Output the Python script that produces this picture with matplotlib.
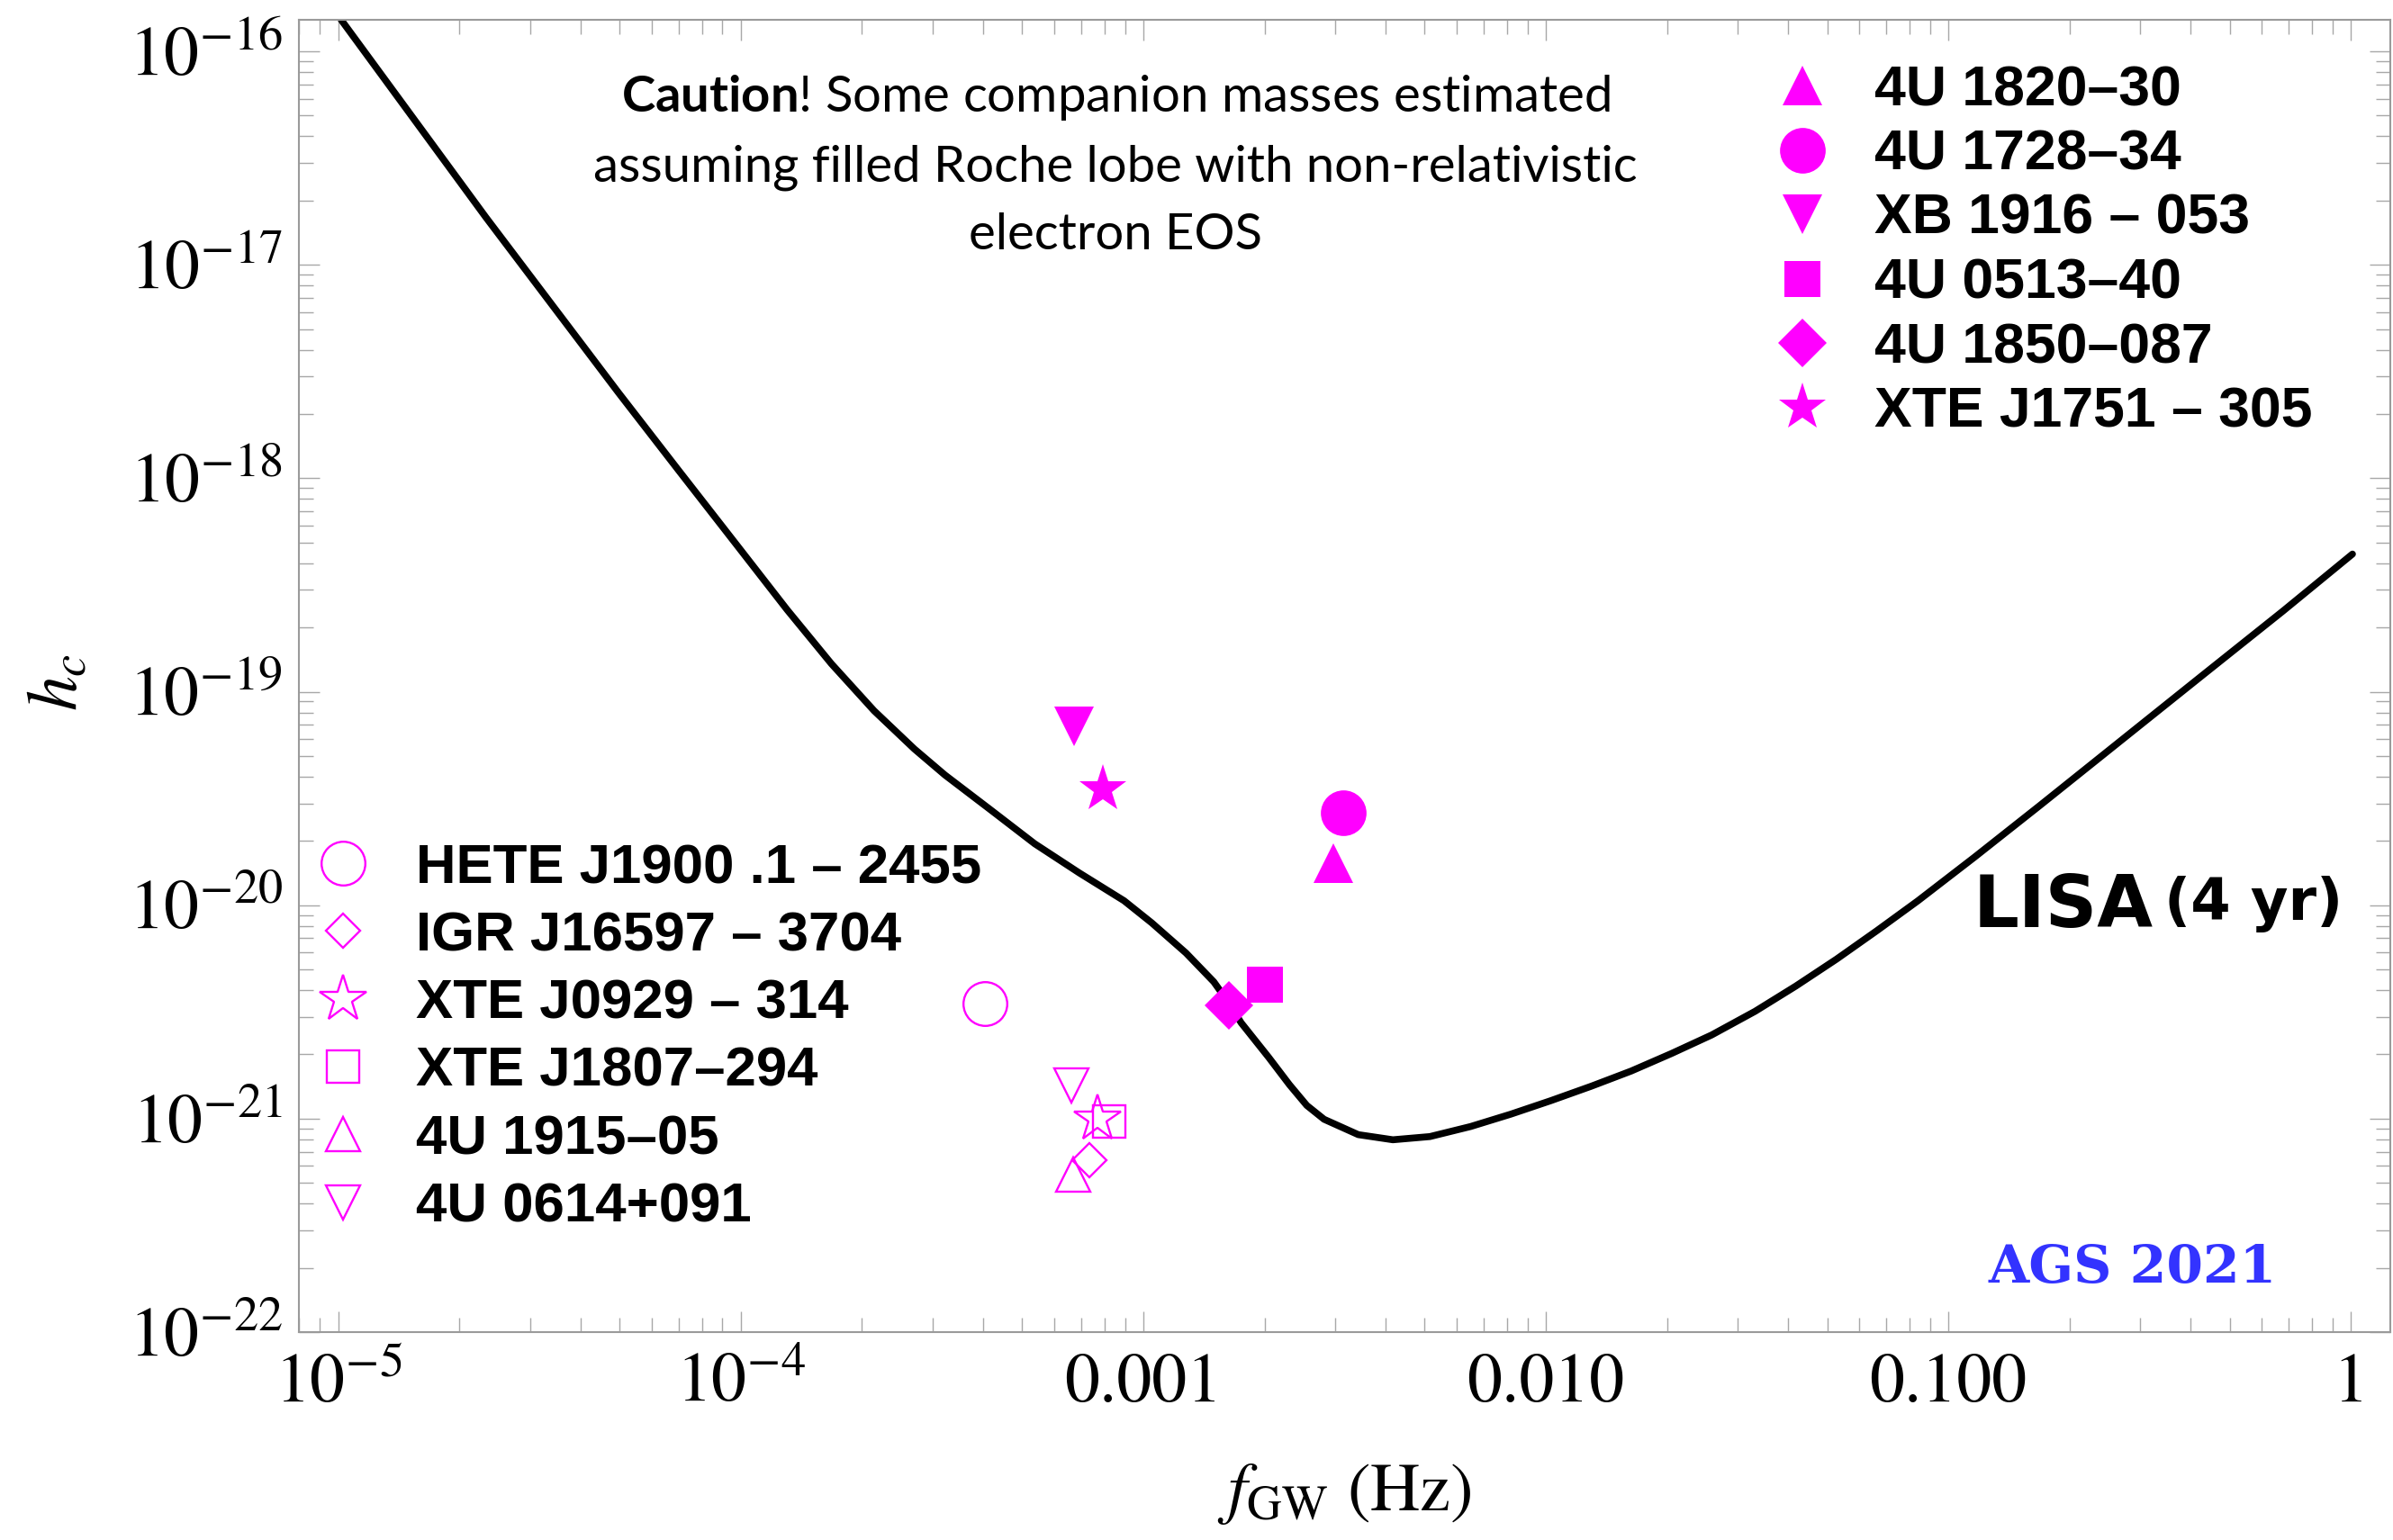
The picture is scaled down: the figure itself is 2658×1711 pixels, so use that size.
import numpy as np
import matplotlib
matplotlib.use('Agg')
import matplotlib.pyplot as plt
from matplotlib.ticker import FixedLocator, FixedFormatter, LogLocator, NullFormatter

# ---------------- data ----------------
# LISA (4 yr) sensitivity curve, log10 f [Hz] and log10 h_c
lisa_log_f = [-4.993, -4.803, -4.634, -4.464, -4.304, -4.155, -4.005, -3.885,
              -3.775, -3.669, -3.569, -3.493, -3.381, -3.270, -3.159, -3.048,
              -2.979, -2.894, -2.825, -2.789, -2.757, -2.689, -2.637, -2.594,
              -2.551, -2.466, -2.380, -2.288, -2.187, -2.087, -1.988, -1.887,
              -1.788, -1.688, -1.588, -1.480, -1.379, -1.278, -1.178, -1.076,
              -0.935, -0.774, -0.572, -0.370, -0.168, 0.004]
lisa_log_hc = [-15.852, -16.341, -16.776, -17.200, -17.599, -17.962, -18.325, -18.616,
               -18.869, -19.089, -19.268, -19.390, -19.551, -19.712, -19.849, -19.979,
               -20.083, -20.224, -20.359, -20.454, -20.551, -20.712, -20.841, -20.938,
               -21.003, -21.075, -21.099, -21.084, -21.037, -20.979, -20.916, -20.848,
               -20.777, -20.695, -20.608, -20.497, -20.379, -20.253, -20.120, -19.980,
               -19.775, -19.535, -19.230, -18.925, -18.621, -18.355]

# filled symbols (upper right list)
filled_names = ['4U 1820–30', '4U 1728–34', 'XB 1916 – 053', '4U 0513–40',
                '4U 1850–087', 'XTE J1751 – 305']
filled_markers = ['^', 'o', 'v', 's', 'D', '*']
filled_f = [2.96e-3, 3.14e-3, 6.73e-4, 2.00e-3, 1.63e-3, 7.92e-4]
filled_hc = [1.57e-20, 2.72e-20, 6.9e-20, 4.26e-21, 3.40e-21, 3.5e-20]

# open symbols (lower left list)
open_names = ['HETE J1900 .1 – 2455', 'IGR J16597 – 3704', 'XTE J0929 – 314',
              'XTE J1807–294', '4U 1915–05', '4U 0614+091']
open_markers = ['o', 'D', '*', 's', '^', 'v']
open_f = [4.05e-4, 7.36e-4, 7.71e-4, 8.22e-4, 6.70e-4, 6.62e-4]
open_hc = [3.46e-21, 6.4e-22, 1.00e-21, 9.66e-22, 5.46e-22, 1.43e-21]

xtick_vals = [1e-5, 1e-4, 1e-3, 1e-2, 1e-1, 1.0]
xtick_labels = [r'$10^{-5}$', r'$10^{-4}$', '0.001', '0.010', '0.100', '1']
ytick_vals = [1e-22, 1e-21, 1e-20, 1e-19, 1e-18, 1e-17, 1e-16]
ytick_labels = [r'$10^{-22}$', r'$10^{-21}$', r'$10^{-20}$', r'$10^{-19}$',
                r'$10^{-18}$', r'$10^{-17}$', r'$10^{-16}$']

# ---------------- style ----------------
plt.rcParams['font.family'] = 'STIXGeneral'
plt.rcParams['mathtext.fontset'] = 'stix'
plt.rcParams['mathtext.rm'] = 'Lato'
plt.rcParams['mathtext.bf'] = 'Lato:bold'
plt.rcParams['mathtext.it'] = 'Lato:italic'

MAG = '#ff00ff'
filled_ms = {'^': 31, 'o': 36.5, 'v': 31, 's': 29, 'D': 27, '*': 40}
open_ms = {'o': 35, 'D': 19.5, '*': 39, 's': 26.5, '^': 27.5, 'v': 27.5}

W, H = 2658, 1711
AX_L, AX_R, AX_T, AX_B = 332, 2655, 22, 1480
fig = plt.figure(figsize=(W / 100, H / 100), dpi=100)
ax = fig.add_axes([AX_L / W, 1 - AX_B / H, (AX_R - AX_L) / W, (AX_B - AX_T) / H])
ax.set_xscale('log')
ax.set_yscale('log')
ax.set_xlim(10 ** -5.098, 10 ** 0.098)
ax.set_ylim(1e-22, 10 ** -15.852)

# curve
ax.plot(10 ** np.array(lisa_log_f), 10 ** np.array(lisa_log_hc), color='black',
        lw=5.5, solid_joinstyle='round', solid_capstyle='round', zorder=2)

# data points
for f, h, m in zip(filled_f, filled_hc, filled_markers):
    ax.plot([f], [h], linestyle='none', marker=m, ms=filled_ms[m], color=MAG,
            mew=0, zorder=3)
for f, h, m in zip(open_f, open_hc, open_markers):
    ax.plot([f], [h], linestyle='none', marker=m, ms=open_ms[m], mfc='none',
            mec=MAG, mew=1.7, zorder=3)

# axes styling
for sp in ax.spines.values():
    sp.set_color('#9a9a9a')
    sp.set_linewidth(1.5)
ax.xaxis.set_major_locator(FixedLocator(xtick_vals))
ax.xaxis.set_major_formatter(FixedFormatter(xtick_labels))
ax.yaxis.set_major_locator(FixedLocator(ytick_vals))
ax.yaxis.set_major_formatter(FixedFormatter(ytick_labels))
ax.xaxis.set_minor_locator(LogLocator(base=10, subs=np.arange(2, 10), numticks=50))
ax.yaxis.set_minor_locator(LogLocator(base=10, subs=np.arange(2, 10), numticks=50))
ax.xaxis.set_minor_formatter(NullFormatter())
ax.yaxis.set_minor_formatter(NullFormatter())
ax.tick_params(which='both', direction='in', top=True, right=True,
               color='#a8a8a8', width=1.0, labelcolor='black')
ax.tick_params(which='major', length=16.5, labelsize=56)
ax.tick_params(which='minor', length=11.5)
ax.tick_params(axis='y', which='major', pad=13)
ax.tick_params(axis='x', which='major', pad=17)

ax.set_ylabel(r'$h_c$', fontsize=56)
ax.yaxis.set_label_coords(-0.099, 0.495)
ax.set_xlabel(r'$f_{\rm GW}$ (Hz)', fontsize=55)
ax.xaxis.set_label_coords(0.5, -0.0988)

# ---------------- hand-made symbol lists ----------------
def axfrac(xpx, ypx):
    return (xpx - AX_L) / (AX_R - AX_L), (AX_B - ypx) / (AX_B - AX_T)

leg_font = 'Liberation Sans'
# upper-right list
mx, y0 = axfrac(2002, 95)
tx, _ = axfrac(2082, 95)
step = 71.5 / (AX_B - AX_T)
cap = 22.0 / (AX_B - AX_T)
for i, (name, m) in enumerate(zip(filled_names, filled_markers)):
    y = y0 - i * step
    ax.plot([mx], [y], transform=ax.transAxes, linestyle='none', marker=m,
            ms=filled_ms[m], color=MAG, mew=0, clip_on=False)
    ax.text(tx, y - cap, name, transform=ax.transAxes, family=leg_font,
            weight='bold', fontsize=45, va='baseline', ha='left')

# lower-left list
mx, y0 = axfrac(381, 959)
tx, _ = axfrac(462, 959)
step = 75.3 / (AX_B - AX_T)
for i, (name, m) in enumerate(zip(open_names, open_markers)):
    y = y0 - i * step
    ax.plot([mx], [y], transform=ax.transAxes, linestyle='none', marker=m,
            ms=open_ms[m], mfc='none', mec=MAG, mew=1.7, clip_on=False)
    ax.text(tx, y - cap, name, transform=ax.transAxes, family=leg_font,
            weight='bold', fontsize=44.5, va='baseline', ha='left')

# ---------------- annotations ----------------
x, y = axfrac(2192, 1030)
ax.text(x, y, 'LISA', transform=ax.transAxes, family='DejaVu Sans',
        weight='bold', fontsize=57.5, va='baseline', ha='left')
x, y = axfrac(2404, 1022)
ax.text(x, y, '(4 yr)', transform=ax.transAxes, family='DejaVu Sans',
        weight='bold', fontsize=46, va='baseline', ha='left')
x, y = axfrac(2208, 1425)
ax.text(x, y, 'AGS 2021', transform=ax.transAxes, family='DejaVu Serif',
        weight='bold', fontsize=42, va='baseline', ha='left', color='#3333ff')

x, y = axfrac(1239, 184)
ax.text(x, y, r'$\bf{Caution}$! Some companion masses estimated' + '\n'
        'assuming filled Roche lobe with non-relativistic\nelectron EOS',
        transform=ax.transAxes, family='Lato', fontsize=40.5, ha='center',
        va='center', multialignment='center', math_fontfamily='custom',
        linespacing=1.6)

fig.savefig('out.png', dpi=100)
